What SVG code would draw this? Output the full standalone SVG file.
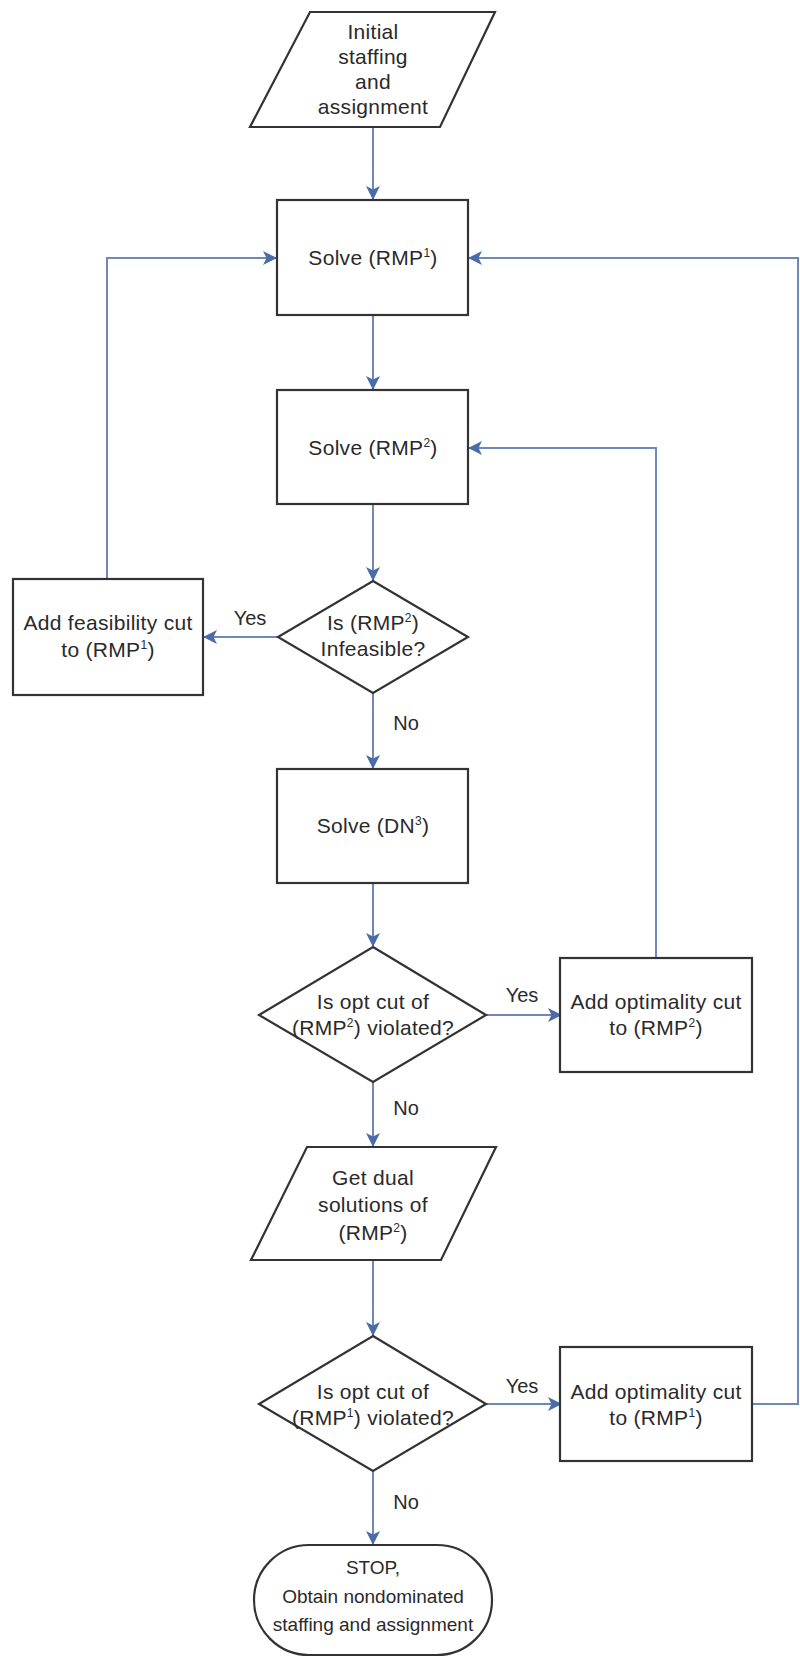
<svg xmlns="http://www.w3.org/2000/svg" width="800" height="1657" viewBox="0 0 800 1657">
<defs>
<style>
.shape{fill:#ffffff;stroke:#333333;stroke-width:2.2;stroke-linejoin:miter}
.conn{fill:none;stroke:#7088B8;stroke-width:2}
.t{font-family:"Liberation Sans",Arial,sans-serif;font-size:21px;letter-spacing:0.3px;fill:#2a2a2a;text-anchor:middle}
.s{font-family:"Liberation Sans",Arial,sans-serif;font-size:19px;fill:#2a2a2a;text-anchor:middle}
.lbl{font-family:"Liberation Sans",Arial,sans-serif;font-size:20px;fill:#2a2a2a;text-anchor:middle}
.sup{font-size:12px}
</style>
<marker id="arrow" viewBox="0 0 12 12" refX="12" refY="6" markerWidth="14" markerHeight="14" markerUnits="userSpaceOnUse" orient="auto">
<path d="M0,0 L12,6 L0,12 L3,6 z" fill="#4A6DA7"/>
</marker>
</defs>
<rect width="800" height="1657" fill="#ffffff"/>

<g id="connectors">
<line class="conn" x1="373" y1="127" x2="373" y2="200" marker-end="url(#arrow)"/>
<line class="conn" x1="373" y1="315" x2="373" y2="390" marker-end="url(#arrow)"/>
<line class="conn" x1="373" y1="504" x2="373" y2="581" marker-end="url(#arrow)"/>
<line class="conn" x1="373" y1="693" x2="373" y2="769" marker-end="url(#arrow)"/>
<line class="conn" x1="373" y1="883" x2="373" y2="947" marker-end="url(#arrow)"/>
<line class="conn" x1="373" y1="1082" x2="373" y2="1147" marker-end="url(#arrow)"/>
<line class="conn" x1="373" y1="1260" x2="373" y2="1336" marker-end="url(#arrow)"/>
<line class="conn" x1="373" y1="1471" x2="373" y2="1545" marker-end="url(#arrow)"/>
<line class="conn" x1="278" y1="637" x2="203" y2="637" marker-end="url(#arrow)"/>
<polyline class="conn" points="107,579 107,258 277,258" marker-end="url(#arrow)"/>
<line class="conn" x1="486" y1="1015" x2="562" y2="1015" marker-end="url(#arrow)"/>
<polyline class="conn" points="656,958 656,448 468,448" marker-end="url(#arrow)"/>
<line class="conn" x1="486" y1="1404" x2="562" y2="1404" marker-end="url(#arrow)"/>
<polyline class="conn" points="752,1404 798,1404 798,258 468,258" marker-end="url(#arrow)"/>
<text class="lbl" x="250" y="625">Yes</text>
<text class="lbl" x="406" y="730">No</text>
<text class="lbl" x="522" y="1002">Yes</text>
<text class="lbl" x="406" y="1115">No</text>
<text class="lbl" x="522" y="1393">Yes</text>
<text class="lbl" x="406" y="1509">No</text>
</g>

<g id="start">
<polygon class="shape" points="310,12 495,12 440,127 250,127"/>
<text class="t" x="373" y="39">Initial</text>
<text class="t" x="373" y="64">staffing</text>
<text class="t" x="373" y="89">and</text>
<text class="t" x="373" y="114">assignment</text>
</g>

<g id="solve-rmp1">
<rect class="shape" x="277" y="200" width="191" height="115"/>
<text class="t" x="373" y="265">Solve (RMP<tspan class="sup" dy="-8">1</tspan><tspan dy="8">)</tspan></text>
</g>

<g id="solve-rmp2">
<rect class="shape" x="277" y="390" width="191" height="114"/>
<text class="t" x="373" y="455">Solve (RMP<tspan class="sup" dy="-8">2</tspan><tspan dy="8">)</tspan></text>
</g>

<g id="infeasible">
<polygon class="shape" points="373,581 468,637 373,693 278,637"/>
<text class="t" x="373" y="630">Is (RMP<tspan class="sup" dy="-8">2</tspan><tspan dy="8">)</tspan></text>
<text class="t" x="373" y="656">Infeasible?</text>
</g>

<g id="feas-cut">
<rect class="shape" x="13" y="579" width="190" height="116"/>
<text class="t" x="108" y="630">Add feasibility cut</text>
<text class="t" x="108" y="657">to (RMP<tspan class="sup" dy="-8">1</tspan><tspan dy="8">)</tspan></text>
</g>

<g id="solve-dn3">
<rect class="shape" x="277" y="769" width="191" height="114"/>
<text class="t" x="373" y="833">Solve (DN<tspan class="sup" dy="-8">3</tspan><tspan dy="8">)</tspan></text>
</g>

<g id="opt-rmp2">
<polygon class="shape" points="373,947 486,1015 373,1082 259,1015"/>
<text class="t" x="373" y="1009">Is opt cut of</text>
<text class="t" x="373" y="1035">(RMP<tspan class="sup" dy="-8">2</tspan><tspan dy="8">) violated?</tspan></text>
</g>

<g id="opt-cut-rmp2">
<rect class="shape" x="560" y="958" width="192" height="114"/>
<text class="t" x="656" y="1009">Add optimality cut</text>
<text class="t" x="656" y="1035">to (RMP<tspan class="sup" dy="-8">2</tspan><tspan dy="8">)</tspan></text>
</g>

<g id="dual">
<polygon class="shape" points="307,1147 496,1147 441,1260 251,1260"/>
<text class="t" x="373" y="1185">Get dual</text>
<text class="t" x="373" y="1212">solutions of</text>
<text class="t" x="373" y="1240">(RMP<tspan class="sup" dy="-8">2</tspan><tspan dy="8">)</tspan></text>
</g>

<g id="opt-rmp1">
<polygon class="shape" points="373,1336 486,1404 373,1471 259,1404"/>
<text class="t" x="373" y="1399">Is opt cut of</text>
<text class="t" x="373" y="1425">(RMP<tspan class="sup" dy="-8">1</tspan><tspan dy="8">) violated?</tspan></text>
</g>

<g id="opt-cut-rmp1">
<rect class="shape" x="560" y="1347" width="192" height="114"/>
<text class="t" x="656" y="1399">Add optimality cut</text>
<text class="t" x="656" y="1425">to (RMP<tspan class="sup" dy="-8">1</tspan><tspan dy="8">)</tspan></text>
</g>

<g id="stop">
<rect class="shape" x="254" y="1545" width="238" height="110" rx="55" ry="55"/>
<text class="s" x="373" y="1574">STOP,</text>
<text class="s" x="373" y="1603">Obtain nondominated</text>
<text class="s" x="373" y="1631">staffing and assignment</text>
</g>
</svg>
